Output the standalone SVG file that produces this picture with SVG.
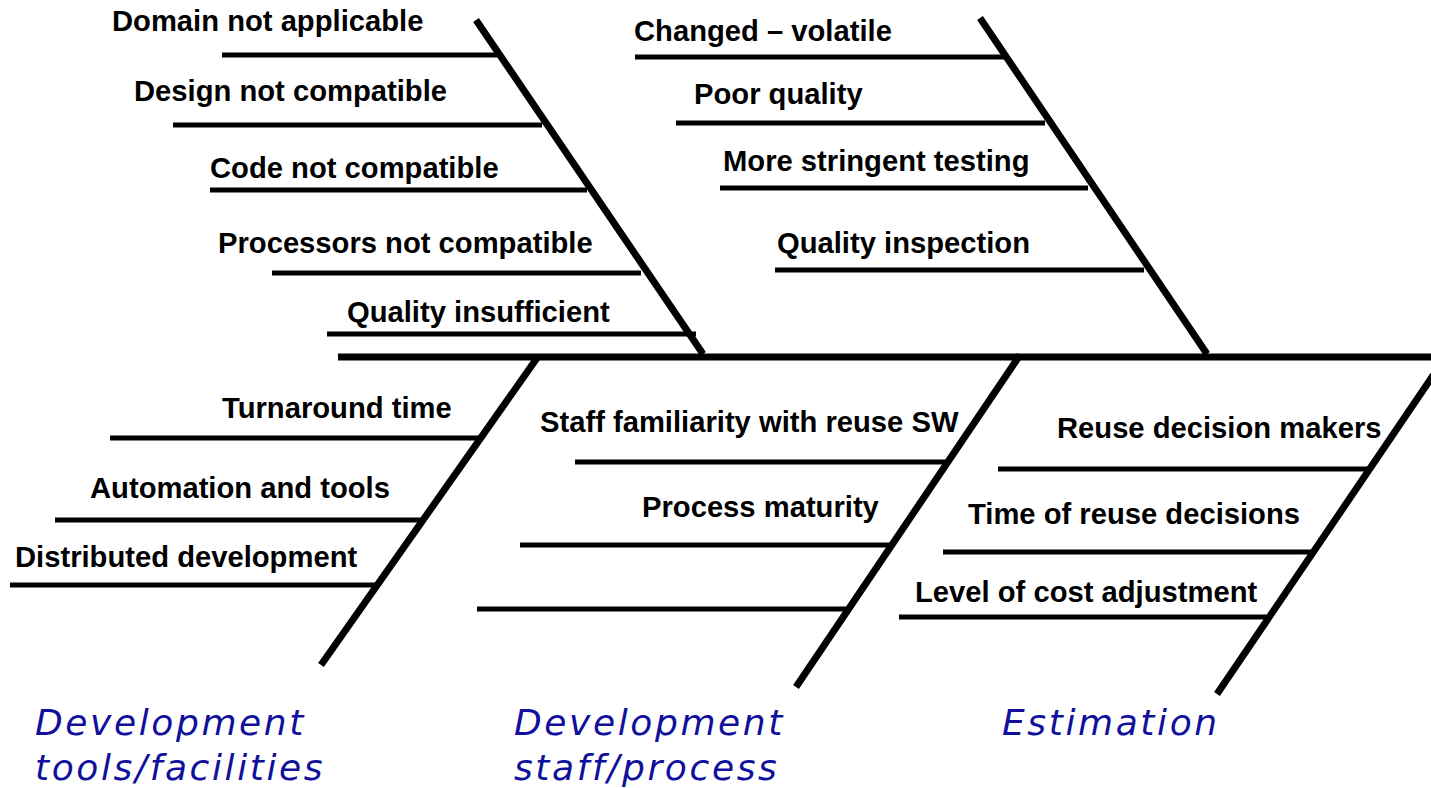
<svg xmlns="http://www.w3.org/2000/svg" width="1431" height="788" viewBox="0 0 1431 788">
<style>
.ln{stroke:#000;stroke-width:5;fill:none}
.bone{stroke:#000;stroke-width:7;fill:none}
.t{font-family:"Liberation Sans",Arial,sans-serif;font-weight:bold;font-size:29.2px;fill:#000}
.c{font-family:"DejaVu Sans",Verdana,sans-serif;font-style:italic;font-size:36px;letter-spacing:2.6px;fill:#10109c}
</style>
<rect width="1431" height="788" fill="#fff"/>
<g id="connectors">
<line class="bone" x1="338" y1="357" x2="1431" y2="357"/>
<line class="bone" x1="476" y1="20" x2="703" y2="354"/>
<line class="bone" x1="980" y1="18" x2="1207" y2="354"/>
<line class="bone" x1="537" y1="358" x2="321" y2="665"/>
<line class="bone" x1="1020" y1="355" x2="796" y2="687"/>
<line class="bone" x1="1447" y1="355" x2="1217" y2="694"/>
</g>
<g id="domain"><line class="ln" x1="222" y1="55" x2="497" y2="55"/><text class="t" x="112" y="31">Domain not applicable</text></g>
<g id="design"><line class="ln" x1="173" y1="125" x2="542" y2="125"/><text class="t" x="134" y="101">Design not compatible</text></g>
<g id="code"><line class="ln" x1="210" y1="190" x2="587" y2="190"/><text class="t" x="210" y="178">Code not compatible</text></g>
<g id="processors"><line class="ln" x1="272" y1="273" x2="641" y2="273"/><text class="t" x="218" y="253">Processors not compatible</text></g>
<g id="quality-insufficient"><line class="ln" x1="327" y1="334" x2="696" y2="334"/><text class="t" x="347" y="322">Quality insufficient</text></g>
<g id="changed"><line class="ln" x1="635" y1="57" x2="1005" y2="57"/><text class="t" x="634" y="41">Changed – volatile</text></g>
<g id="poor-quality"><line class="ln" x1="676" y1="123" x2="1045" y2="123"/><text class="t" x="694" y="104">Poor quality</text></g>
<g id="testing"><line class="ln" x1="720" y1="188" x2="1088" y2="188"/><text class="t" x="723" y="171">More stringent testing</text></g>
<g id="inspection"><line class="ln" x1="775" y1="270" x2="1144" y2="270"/><text class="t" x="777" y="253">Quality inspection</text></g>
<g id="turnaround"><line class="ln" x1="110" y1="438" x2="481" y2="438"/><text class="t" x="222" y="418">Turnaround time</text></g>
<g id="automation"><line class="ln" x1="55" y1="520" x2="423" y2="520"/><text class="t" x="90" y="498">Automation and tools</text></g>
<g id="distributed"><line class="ln" x1="10" y1="585" x2="378" y2="585"/><text class="t" x="15" y="567">Distributed development</text></g>
<g id="staff"><line class="ln" x1="575" y1="462" x2="946" y2="462"/><text class="t" x="540" y="432">Staff familiarity with reuse SW</text></g>
<g id="process"><line class="ln" x1="520" y1="545" x2="891" y2="545"/><text class="t" x="642" y="517">Process maturity</text></g>
<g id="blank"><line class="ln" x1="477" y1="609" x2="849" y2="609"/></g>
<g id="makers"><line class="ln" x1="998" y1="469" x2="1368" y2="469"/><text class="t" x="1057" y="438">Reuse decision makers</text></g>
<g id="time"><line class="ln" x1="943" y1="552" x2="1311" y2="552"/><text class="t" x="968" y="524">Time of reuse decisions</text></g>
<g id="level"><line class="ln" x1="899" y1="617" x2="1268" y2="617"/><text class="t" x="915" y="602">Level of cost adjustment</text></g>
<g id="cat-tools"><text class="c" x="35" y="735">Development</text><text class="c" x="35" y="780">tools/facilities</text></g>
<g id="cat-staff"><text class="c" x="514" y="735">Development</text><text class="c" x="514" y="780">staff/process</text></g>
<g id="cat-estimation"><text class="c" x="1002" y="735">Estimation</text></g>
</svg>
